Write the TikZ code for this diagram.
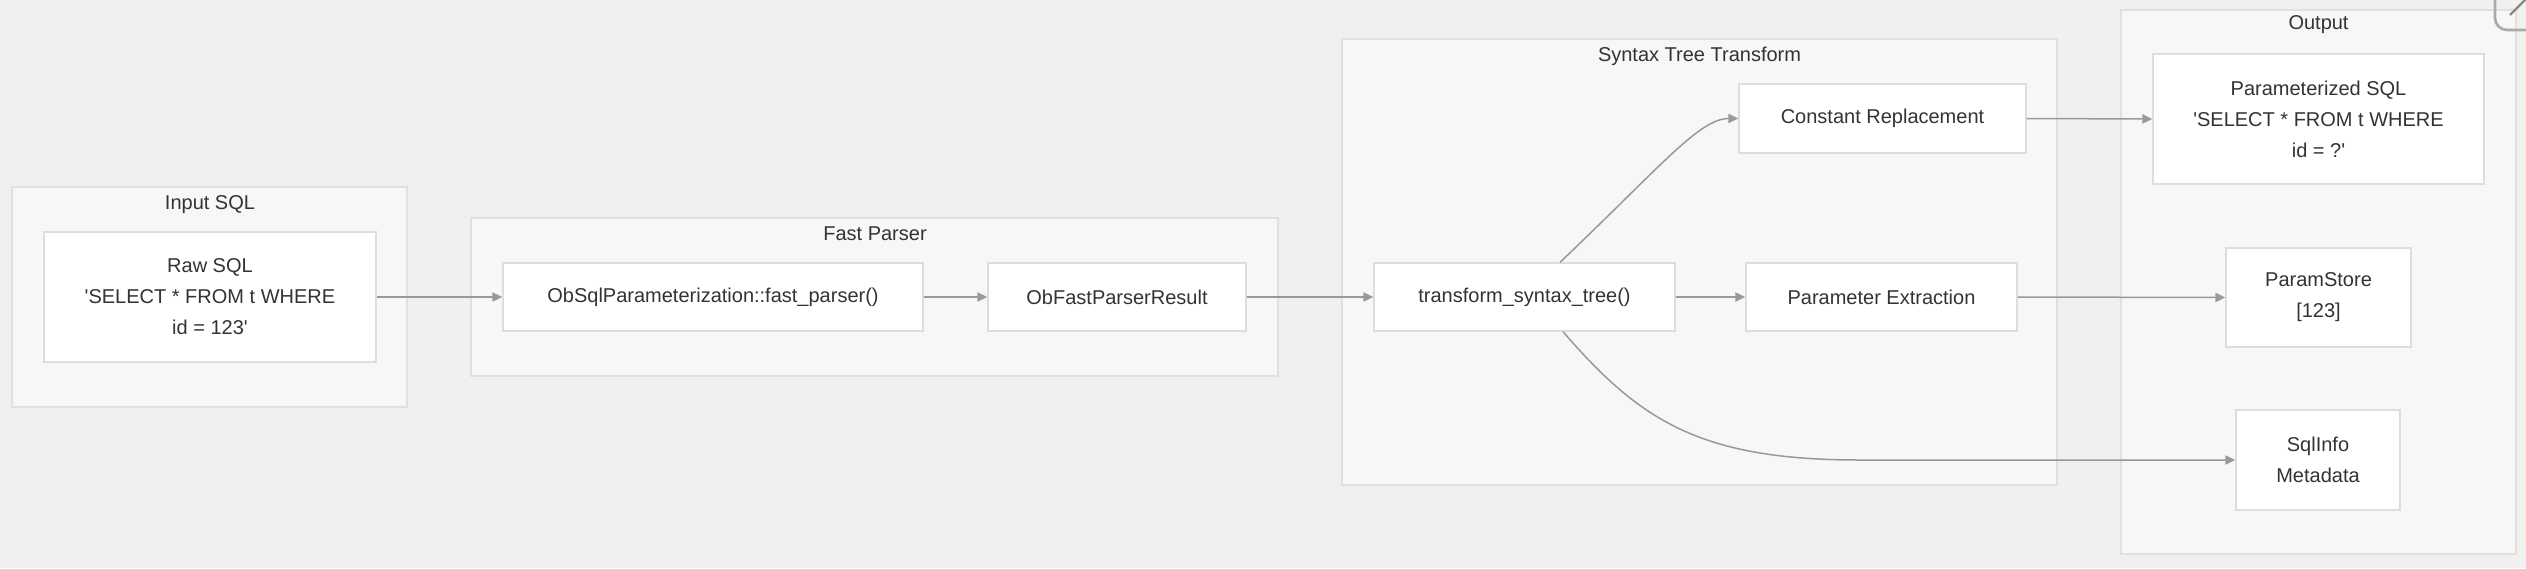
\documentclass[tikz,border=0pt]{standalone}
\usepackage{fontspec}
\setmainfont{Liberation Sans}[Ligatures=TeXOff]
\usetikzlibrary{arrows.meta}
\definecolor{bgc}{HTML}{F1F0EE}
\definecolor{clf}{HTML}{F7F7F7}
\definecolor{clb}{HTML}{E0E0E0}
\definecolor{nbd}{HTML}{DDDDDD}
\definecolor{arr}{HTML}{999999}
\definecolor{txt}{HTML}{333333}
\definecolor{clo}{HTML}{AAAAAA}
\tikzset{
  cluster/.style={draw=clb, fill=clf, line width=0.7pt, inner sep=0pt},
  nbox/.style={draw=nbd, fill=white, line width=0.7pt, align=center, text=txt, inner sep=0pt},
  ttl/.style={text=txt, inner sep=0pt},
  conn/.style={draw=arr, line width=0.75pt, -{Triangle[length=5pt,width=4.6pt]}},
}
\begin{document}
\begin{tikzpicture}[x=0.5pt,y=-0.5pt,font=\fontsize{10pt}{15.5pt}\selectfont]
\useasboundingbox (0,0) rectangle (2526,568);
\fill[bgc] (0,0) rectangle (2526,568);
\clip (0,0) rectangle (2526,568);
% clusters
\node[cluster, minimum width=197.5pt, minimum height=110pt] (cin) at (209.5,297) {};
\node[ttl] (tin) at (210,205) {Input SQL};
\node[cluster, minimum width=403.5pt, minimum height=79pt] (cfp) at (874.5,297) {};
\node[ttl] (tfp) at (875,234) {Fast Parser};
\node[cluster, minimum width=357.5pt, minimum height=223pt] (cst) at (1699.5,262) {};
\node[ttl] (tst2) at (1699.5,56) {Syntax Tree Transform};
\node[cluster, minimum width=197.5pt, minimum height=272pt] (cout) at (2318.5,282) {};
\node[ttl] (tout) at (2318.5,25) {Output};
% nodes
\node[nbox, minimum width=166pt, minimum height=65pt] (raw) at (210,297) {Raw SQL\\'SELECT * FROM t WHERE\\id = 123'};
\node[nbox, minimum width=210pt, minimum height=34pt] (fp) at (713,297) {ObSqlParameterization::fast\_parser()};
\node[nbox, minimum width=129pt, minimum height=34pt] (fpr) at (1117,297) {ObFastParserResult};
\node[nbox, minimum width=150.5pt, minimum height=34pt] (tst) at (1524.5,297) {transform\_syntax\_tree()};
\node[nbox, minimum width=143.5pt, minimum height=34.5pt] (cr) at (1882.5,118.5) {Constant Replacement};
\node[nbox, minimum width=135.5pt, minimum height=34pt] (pe) at (1881.5,297) {Parameter Extraction};
\node[nbox, minimum width=165.5pt, minimum height=65pt] (psql) at (2318.5,119) {Parameterized SQL\\'SELECT * FROM t WHERE\\id = ?'};
\node[nbox, minimum width=92.5pt, minimum height=49.5pt] (pstore) at (2318.5,297.5) {ParamStore\\{[}123{]}};
\node[nbox, minimum width=82pt, minimum height=50pt] (sqlinfo) at (2318,460) {SqlInfo\\Metadata};
% connectors
\draw[conn] (raw.east) -- (fp.west);
\draw[conn] (fp.east) -- (fpr.west);
\draw[conn] (fpr.east) -- (tst.west);
\draw[conn] (tst.east) -- (pe.west);
\draw[conn] ([xshift=17.75pt]tst.north) .. controls +(100,-95) and +(-39,0) .. (cr.west);
\coordinate (bend) at (1860,460);
\draw[conn] ([xshift=19.25pt]tst.south) .. controls +(77,89) and +(-160,0) .. (bend) -- (sqlinfo.west);
\draw[conn] (cr.east) -- (psql.west);
\draw[conn] (pe.east) -- (pstore.west);
% close button fragment
\draw[clo, line width=1.3pt, rounded corners=6pt] (2495,-20) -- (2495,30) -- (2570,30);
\draw[clo!80!black, line width=1.2pt] (2510,15) -- (2530,-5);
\end{tikzpicture}
\end{document}
